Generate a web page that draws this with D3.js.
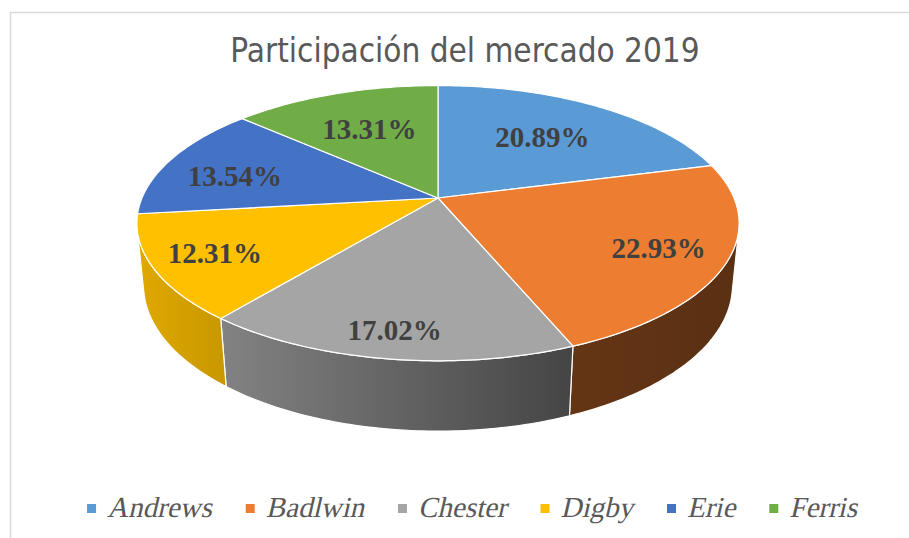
<!DOCTYPE html>
<html>
<head>
<meta charset="utf-8">
<script src="https://cdn.jsdelivr.net/npm/d3@7"></script>
<style>
  body { margin: 0; background: #fff; }
</style>
</head>
<body>
<div id="chart"></div>
<script>
// Data
const companies = ["Andrews", "Badlwin", "Chester", "Digby", "Erie", "Ferris"];
const shares = [20.89, 22.93, 17.02, 12.31, 13.54, 13.31];
const colors = ["#5B9BD5", "#ED7D31", "#A5A5A5", "#FFC000", "#4472C4", "#70AD47"];
const chartTitle = "Participación del mercado 2019";

const width = 909, height = 538;

const svg = d3.select("#chart")
  .append("svg")
    .attr("width", width)
    .attr("height", height);

// chart area border
svg.append("rect")
  .attr("x", 10.5).attr("y", 12.5)
  .attr("width", 1000).attr("height", 1000)
  .attr("fill", "#fff")
  .attr("stroke", "#d9d9d9")
  .attr("stroke-width", 1.5);

// Title
svg.append("text")
  .attr("x", 465)
  .attr("y", 62)
  .attr("text-anchor", "middle")
  .style("font-family", "'Liberation Sans Narrow', 'DejaVu Sans Condensed', sans-serif")
  .style("font-size", "33px")
  .style("fill", "#595959")
  .text(chartTitle);

// 3D pie set up (perspective projection)
const cx = 438, cy = 198;      // screen position of pie centre on top face
const R = 296, depth = 70;     // radius and thickness
const elev = 26.7 * Math.PI / 180;
const camDist = 1445;
const sinE = Math.sin(elev), cosE = Math.cos(elev);

// theta: clockwise from back (12 o'clock), r: radius, z: 0 top, -depth bottom
function project(theta, r, z) {
  const px = r * Math.sin(theta);
  const py = -r * Math.cos(theta);
  const up = z * cosE - py * sinE;
  const toward = py * cosE + z * sinE;
  const s = camDist / (camDist - toward);
  return [cx + px * s, cy - up * s];
}

function arcAngles(a0, a1) {
  const n = Math.max(2, Math.ceil((a1 - a0) / (Math.PI / 180)));
  return d3.range(n + 1).map(i => a0 + (a1 - a0) * i / n);
}

const pie = d3.pie().sort(null).value(d => d)(shares);
const line = d3.line();

// Side wall is facing the camera where cos(theta) < -R / (camDist*cosE)
const visLimit = Math.acos(-R / (camDist * cosE));
const vis0 = visLimit, vis1 = 2 * Math.PI - visLimit;

// shading of the side walls along x
const shade = d3.scaleLinear().domain([137, 572, 740]).range([0.88, 0.42, 0.38]);
const defs = svg.append("defs");
colors.forEach((c, i) => {
  const g = defs.append("linearGradient")
    .attr("id", "side" + i)
    .attr("gradientUnits", "userSpaceOnUse")
    .attr("x1", 137).attr("x2", 740).attr("y1", 0).attr("y2", 0);
  [137, 222, 400, 572, 740].forEach(x => {
    const k = shade(x), b = d3.rgb(c);
    g.append("stop")
      .attr("offset", (x - 137) / (740 - 137))
      .attr("stop-color", d3.rgb(b.r * k, b.g * k, b.b * k));
  });
});

// Side walls
const sides = svg.append("g");
pie.forEach((d, i) => {
  const a0 = Math.max(d.startAngle, vis0), a1 = Math.min(d.endAngle, vis1);
  if (a1 <= a0) return;
  const angs = arcAngles(a0, a1);
  const pts = angs.map(a => project(a, R, 0))
    .concat(angs.slice().reverse().map(a => project(a, R, -depth)));
  sides.append("path")
    .attr("d", line(pts) + "Z")
    .attr("fill", "url(#side" + i + ")")
    .attr("stroke", "#fff")
    .attr("stroke-width", 1.2)
    .attr("stroke-linejoin", "round");
});

// Top faces
const tops = svg.append("g");
pie.forEach((d, i) => {
  const pts = [project(0, 0, 0)].concat(arcAngles(d.startAngle, d.endAngle).map(a => project(a, R, 0)));
  tops.append("path")
    .attr("d", line(pts) + "Z")
    .attr("fill", colors[i])
    .attr("stroke", "#fff")
    .attr("stroke-width", 1.2)
    .attr("stroke-linejoin", "round");
});

// Data labels
const labelRadius = [0.63, 0.78, 0.85, 0.80, 0.75, 0.63];
svg.append("g").selectAll("text")
  .data(pie)
  .join("text")
    .attr("transform", (d, i) => {
      const p = project((d.startAngle + d.endAngle) / 2, R * labelRadius[i], 0);
      if (i === 4) p[1] += 7;
      return "translate(" + p[0] + "," + p[1] + ")";
    })
    .attr("dy", "0.35em")
    .attr("text-anchor", "middle")
    .style("font-family", "'Liberation Serif', 'Times New Roman', serif")
    .style("font-weight", "bold")
    .style("font-size", "29px")
    .style("fill", "#404040")
    .text(d => d.data.toFixed(2) + "%");

// Legend (serif text, slanted to look italic)
const legend = svg.append("g");
const items = legend.selectAll("g")
  .data(companies)
  .join("g");
items.append("rect")
  .attr("y", -13)
  .attr("width", 9).attr("height", 9)
  .attr("fill", (d, i) => colors[i]);
items.append("text")
  .attr("transform", "translate(20,0) skewX(-13)")
  .style("font-family", "'Liberation Serif', 'Times New Roman', serif")
  .style("font-size", "29px")
  .style("fill", "#595959")
  .text(d => d);

let offset = 0;
items.each(function() {
  const w = 20 + d3.select(this).select("text").node().getComputedTextLength();
  d3.select(this).attr("transform", "translate(" + offset + ",0)");
  offset += w + 34;
});
const legendWidth = offset - 34;
legend.attr("transform", "translate(" + (472 - legendWidth / 2) + ",517)");
</script>
</body>
</html>
